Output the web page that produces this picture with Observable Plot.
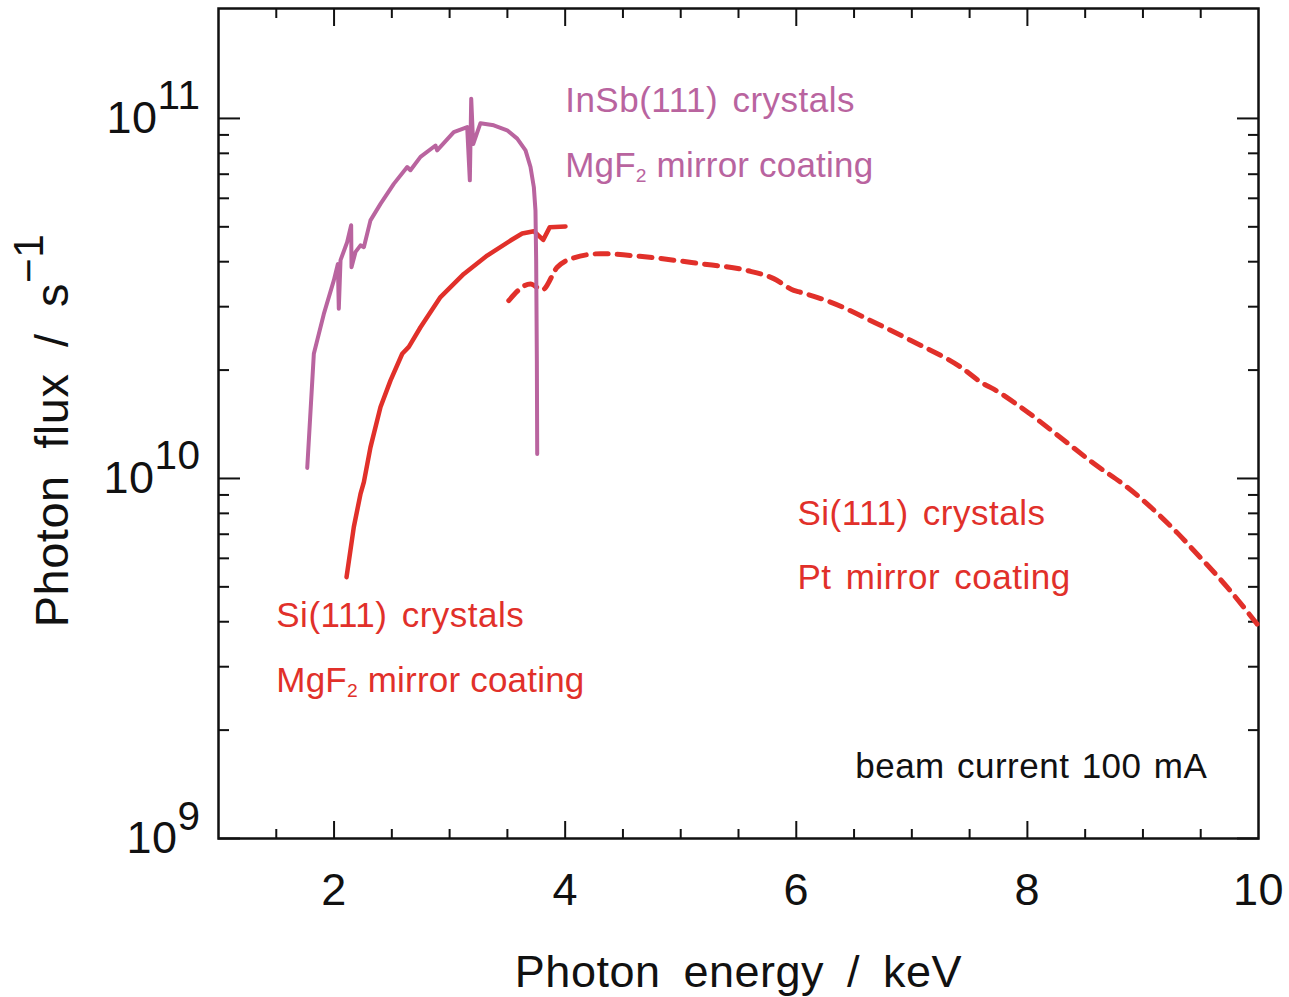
<!DOCTYPE html>
<html><head><meta charset="utf-8">
<script src="https://cdn.jsdelivr.net/npm/d3@7"></script>
<script src="https://cdn.jsdelivr.net/npm/@observablehq/plot@0.6"></script>
<style>
body{margin:0;background:#fff}
#chart svg{display:block}
#chart text{letter-spacing:0.5px}
</style>
</head><body><div id="chart"></div>
<script>
// InSb(111) crystals, MgF2 mirror coating
const insbEnergy = [1.768,1.825,1.911,1.998,2.033,2.041,2.056,2.113,2.148,2.151,2.186,2.229,2.258,2.315,2.402,2.517,2.633,2.661,2.748,2.878,2.892,3.036,3.152,3.175,3.187,3.204,3.267,3.382,3.498,3.585,3.657,3.700,3.729,3.743,3.749,3.755,3.758];
const insbFlux = [1.07e10,2.22e10,2.86e10,3.55e10,3.94e10,2.96e10,4.04e10,4.53e10,5.05e10,3.86e10,4.26e10,4.44e10,4.39e10,5.21e10,5.79e10,6.58e10,7.33e10,7.18e10,7.82e10,8.41e10,8.15e10,9.16e10,9.46e10,6.73e10,1.135e11,8.49e10,9.70e10,9.57e10,9.27e10,8.79e10,8.15e10,7.33e10,6.44e10,5.55e10,4.04e10,2.13e10,1.17e10];
// Si(111) crystals, MgF2 mirror coating
const siMgEnergy = [2.108,2.171,2.229,2.258,2.315,2.402,2.488,2.590,2.647,2.748,2.921,3.123,3.325,3.527,3.628,3.729,3.810,3.867,4.003];
const siMgFlux = [5.32e9,7.33e9,9.06e9,9.77e9,1.22e10,1.58e10,1.87e10,2.22e10,2.32e10,2.63e10,3.19e10,3.70e10,4.16e10,4.58e10,4.79e10,4.86e10,4.60e10,4.99e10,5.01e10];
// Si(111) crystals, Pt mirror coating
const siPtEnergy = [3.512,3.700,3.801,3.931,4.075,4.306,4.710,5.142,5.575,5.805,5.978,6.036,6.296,6.700,6.988,7.421,7.623,7.709,7.940,8.286,8.575,8.863,9.010,9.152,9.300,9.440,9.729,9.988];
const siPtFlux = [3.12e10,3.47e10,3.34e10,3.86e10,4.10e10,4.21e10,4.12e10,3.96e10,3.78e10,3.59e10,3.33e10,3.29e10,3.09e10,2.69e10,2.42e10,2.04e10,1.83e10,1.77e10,1.58e10,1.30e10,1.10e10,9.46e9,8.65e9,7.85e9,7.05e9,6.31e9,4.99e9,3.94e9];

const xTickLabels = [2, 4, 6, 8, 10];
const xMajorTicks = [2, 4, 6, 8];
const xMinorTicks = [1.5, 2.5, 3, 3.5, 4.5, 5, 5.5, 6.5, 7, 7.5, 8.5, 9, 9.5];
const yMajorTicks = [1e9, 1e10, 1e11];
const yMinorTicks = [2e9,3e9,4e9,5e9,6e9,7e9,8e9,9e9,2e10,3e10,4e10,5e10,6e10,7e10,8e10,9e10];

const annoText = ["InSb(111) crystals", "MgF_{2} mirror coating", "Si(111) crystals", "MgF_{2} mirror coating", "Si(111) crystals", "Pt mirror coating", "beam current 100 mA"];
const annoX = [4.0, 4.0, 1.5, 1.5, 6.01, 6.01, 6.51];
const annoY = [1.12e11, 7.4e10, 4.16e9, 2.75e9, 8.0e9, 5.31e9, 1.585e9];
const annoColor = ["purple", "purple", "red", "red", "red", "red", "black"];

const colors = {purple: "#b9649f", red: "#e1302a", black: "#111"};
const font = "Liberation Sans, Arial, sans-serif";

const zip = (xs, ys) => xs.map((x, i) => ({x, y: ys[i]}));
const annos = annoText.map((t, i) => ({t, x: annoX[i], y: annoY[i], c: annoColor[i]}));

const chart = Plot.plot({
  width: 1289, height: 997,
  marginLeft: 218, marginRight: 31, marginTop: 8, marginBottom: 159,
  style: {fontFamily: font, background: "white", color: "#111"},
  x: {domain: [1, 10]},
  y: {type: "log", domain: [1e9, 2.02e11]},
  marks: [
    Plot.axisX(xMajorTicks, {anchor: "bottom", tickSize: -17, strokeWidth: 2, fill: "none", label: null}),
    Plot.axisX(xMinorTicks, {anchor: "bottom", tickSize: -9, strokeWidth: 2, fill: "none", label: null}),
    Plot.axisX(xMajorTicks, {anchor: "top", tickSize: -17, strokeWidth: 2, fill: "none", label: null}),
    Plot.axisX(xMinorTicks, {anchor: "top", tickSize: -9, strokeWidth: 2, fill: "none", label: null}),
    Plot.axisX(xTickLabels, {anchor: "bottom", tickSize: 0, tickPadding: 35, fontSize: 45, label: null, tickFormat: d => String(d)}),
    Plot.axisY(yMajorTicks, {anchor: "left", tickSize: -22, strokeWidth: 2, fill: "none", label: null}),
    Plot.axisY(yMinorTicks, {anchor: "left", tickSize: -11, strokeWidth: 2, fill: "none", label: null}),
    Plot.axisY(yMajorTicks, {anchor: "right", tickSize: -22, strokeWidth: 2, fill: "none", label: null}),
    Plot.axisY(yMinorTicks, {anchor: "right", tickSize: -11, strokeWidth: 2, fill: "none", label: null}),
    Plot.axisY(yMajorTicks, {anchor: "left", tickSize: 0, tickPadding: 18, fontSize: 45, label: null,
      tickFormat: d => `10^{${Math.round(Math.log10(d))}}`}),
    Plot.frame({stroke: "#111", strokeWidth: 2.5}),
    Plot.line(zip(siPtEnergy, siPtFlux), {x: "x", y: "y", stroke: colors.red, strokeWidth: 5, strokeDasharray: "13,9", curve: "monotone-x"}),
    Plot.line(zip(siMgEnergy, siMgFlux), {x: "x", y: "y", stroke: colors.red, strokeWidth: 4.5}),
    Plot.line(zip(insbEnergy, insbFlux), {x: "x", y: "y", stroke: colors.purple, strokeWidth: 4}),
    Plot.text(annos, {x: "x", y: "y", text: "t", fill: d => colors[d.c], textAnchor: "start", fontSize: 35}),
    Plot.text(["Photon energy / keV"], {frameAnchor: "bottom", dy: 134, lineAnchor: "middle", textAnchor: "middle", fontSize: 45, fill: "#111"}),
    Plot.text(["Photon flux / s^{−1}"], {frameAnchor: "left", dx: -166, dy: 7, rotate: -90, lineAnchor: "middle", textAnchor: "middle", fontSize: 47, fill: "#111"})
  ]
});
document.getElementById("chart").append(chart);

// word spacing like the reference's wide gaps
d3.select(chart).selectAll("text").each(function() {
  const s = this.textContent;
  if (s.startsWith("Photon energy")) this.setAttribute("word-spacing", "10");
  else if (s.startsWith("Photon flux")) this.setAttribute("word-spacing", "13");
  else if (s.startsWith("beam")) this.setAttribute("word-spacing", "2");
  else if (s.startsWith("MgF")) { this.setAttribute("word-spacing", "0"); this.style.letterSpacing = "0.2px"; }
  else if (s.includes(" ")) this.setAttribute("word-spacing", "4");
});

// rich text: ^{...} superscript, _{...} subscript
d3.select(chart).selectAll("text").each(function() {
  const s = this.textContent;
  if (!/[\^_]\{/.test(s)) return;
  const fs = parseFloat(getComputedStyle(this).fontSize) || 40;
  const sel = d3.select(this);
  this.textContent = "";
  const re = /([\^_])\{([^}]*)\}/g;
  let last = 0, m, pending = 0;
  while ((m = re.exec(s))) {
    if (m.index > last) {
      const t = sel.append("tspan").text(s.slice(last, m.index));
      if (pending) t.attr("dy", pending);
      pending = 0;
    }
    const sup = m[1] === "^";
    const size = sup ? 0.9 * fs : 0.55 * fs;
    const shift = sup ? -0.52 * fs : 0.15 * fs;
    sel.append("tspan").text(m[2]).attr("font-size", size).attr("dy", shift + pending);
    pending = -shift;
    last = re.lastIndex;
  }
  if (last < s.length) {
    const t = sel.append("tspan").text(s.slice(last));
    if (pending) t.attr("dy", pending);
  }
});
</script>
</body></html>
